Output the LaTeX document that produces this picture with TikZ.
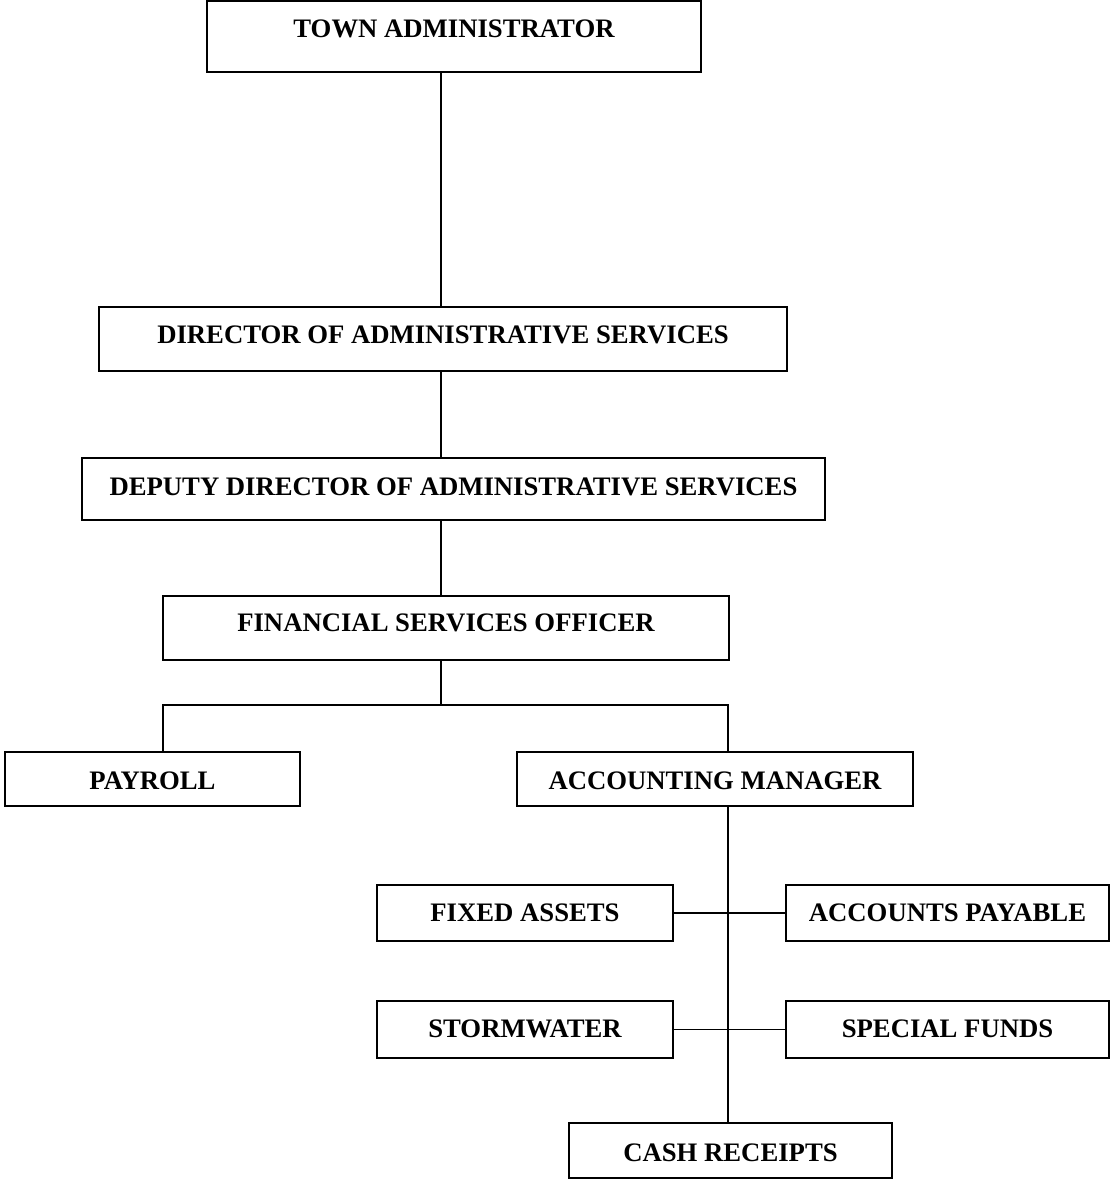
\documentclass[tikz,border=0pt]{standalone}
\usepackage{fontspec}
\setmainfont{Liberation Serif}
\begin{document}
\begin{tikzpicture}[x=1pt,y=-1pt,
  boxshape/.style={draw, line width=1.6pt, rectangle, inner sep=0pt, outer sep=0pt},
  lbl/.style={anchor=base, inner sep=0pt, font=\fontsize{26.7}{30}\selectfont\bfseries},
  conn/.style={line width=1.6pt}]
\useasboundingbox (0,0) rectangle (1110,1179);
\newcommand\obox[7]{%
  \node[boxshape, minimum width={(#4-#2)*1pt}, minimum height={(#5-#3)*1pt}] (#1) at ({(#2+#4)/2},{(#3+#5)/2}) {};
  \node[lbl] (#1t) at ({(#2+#4)/2},#6) {#7};}
\obox{ta}{207}{1}{701}{72}{37}{TOWN ADMINISTRATOR}
\obox{dir}{99}{307}{787}{371}{343}{DIRECTOR OF ADMINISTRATIVE SERVICES}
\obox{dep}{82}{458}{825}{520}{495}{DEPUTY DIRECTOR OF ADMINISTRATIVE SERVICES}
\obox{fso}{163}{596}{729}{660}{631}{FINANCIAL SERVICES OFFICER}
\obox{pay}{5}{752}{300}{806}{789}{PAYROLL}
\obox{am}{517}{752}{913}{806}{789}{ACCOUNTING MANAGER}
\obox{fa}{377}{885}{673}{941}{921}{FIXED ASSETS}
\obox{ap}{786}{885}{1109}{941}{921}{ACCOUNTS PAYABLE}
\obox{sw}{377}{1001}{673}{1058}{1037}{STORMWATER}
\obox{sf}{786}{1001}{1109}{1058}{1037}{SPECIAL FUNDS}
\obox{cr}{569}{1123}{892}{1178}{1161}{CASH RECEIPTS}
\coordinate (trunk) at (441,0);
\coordinate (split) at (441,705);
\coordinate (amx) at (728,0);
\coordinate (payx) at (163,0);
\draw[conn] (trunk |- ta.south) -- (trunk |- dir.north);
\draw[conn] (trunk |- dir.south) -- (trunk |- dep.north);
\draw[conn] (trunk |- dep.south) -- (trunk |- fso.north);
\draw[conn] (trunk |- fso.south) -- (split);
\draw[conn] (payx |- pay.north) -- (payx |- split) -- (amx |- split) -- (amx |- am.north);
\draw[conn] (amx |- am.south) -- (amx |- cr.north);
\draw[conn] (fa.east) -- (ap.west);
\draw[conn] (sw.east) -- (sf.west);
\end{tikzpicture}
\end{document}
